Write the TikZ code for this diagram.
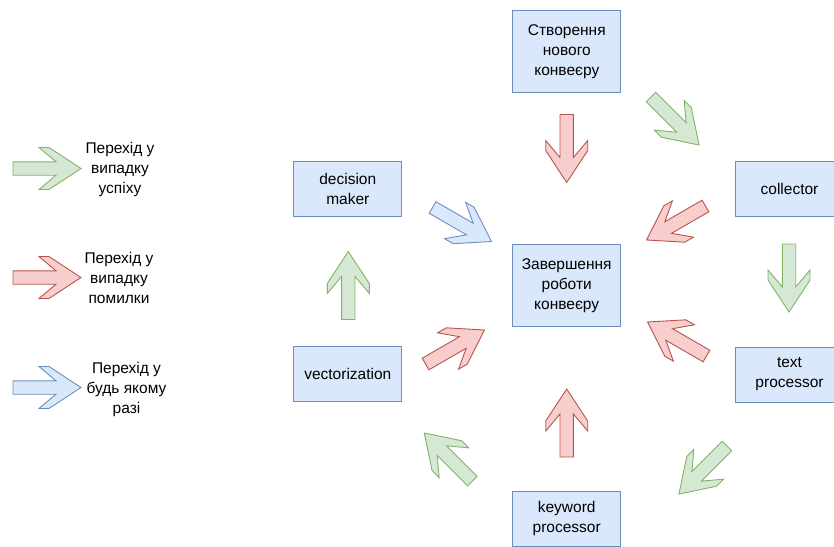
\documentclass[tikz,border=0pt]{standalone}
\usepackage{fontspec}
\setmainfont{Liberation Sans}
\definecolor{bxfill}{HTML}{DAE8FC}
\definecolor{bxdraw}{HTML}{6C8EBF}
\definecolor{rdfill}{HTML}{F8CECC}
\definecolor{rddraw}{HTML}{B85450}
\definecolor{gnfill}{HTML}{D5E8D4}
\definecolor{gndraw}{HTML}{82B366}
\tikzset{
  box/.style={draw=bxdraw, fill=bxfill, line width=0.9pt, minimum width=108pt, align=center, inner sep=2pt, font=\fontsize{15.5}{20}\selectfont},
  lbl/.style={align=center, inner sep=0pt, font=\fontsize{15.5}{20}\selectfont},
  succarrow/.style={draw=gndraw, fill=gnfill, line width=0.9pt, line join=miter},
  failarrow/.style={draw=rddraw, fill=rdfill, line width=0.9pt, line join=miter},
  bothwayarrow/.style={draw=bxdraw, fill=bxfill, line width=0.9pt, line join=miter},
}
\newcommand{\fatarrow}[3]{%
  \filldraw[#1, shift={(#2)}, rotate=#3] (-34,6.7) -- (9,6.7) -- (-8,21) -- (2,21) -- (34,0) -- (2,-21) -- (-8,-21) -- (9,-6.7) -- (-34,-6.7) -- cycle;}
\begin{document}
\begin{tikzpicture}[x=1pt, y=-1pt]
\useasboundingbox (0,0) rectangle (834,546);
% boxes
\node[box, minimum height=82.7pt] (create) at (566.8,51.3) {Створення\\нового\\конвеєру};
\node[box, minimum height=82.7pt] (finish) at (566.7,285.3) {Завершення\\роботи\\конвеєру};
\node[box, minimum height=55.7pt] (collector) at (789.5,189) {collector};
\node[box, minimum height=55pt] (textproc) at (789.5,374.5) {text\\processor};
\node[box, minimum height=55.7pt] (keyword) at (566.7,518.8) {keyword\\processor};
\node[box, minimum height=55pt] (decision) at (347.8,189.2) {decision\\maker};
\node[box, minimum height=55pt] (vector) at (347.8,374.2) {vectorization};
% arrows in diagram
\fatarrow{failarrow}{566.7,148.5}{-90}
\fatarrow{succarrow}{675,121}{-45}
\fatarrow{failarrow}{676,223}{210}
\fatarrow{succarrow}{789,278}{-90}
\fatarrow{failarrow}{677,339}{150}
\fatarrow{succarrow}{703,470}{225}
\fatarrow{failarrow}{566.7,423}{90}
\fatarrow{succarrow}{448.3,457}{135}
\fatarrow{failarrow}{455,347}{30}
\fatarrow{succarrow}{348.3,285.5}{90}
\fatarrow{bothwayarrow}{462,224.5}{-30}
% legend
\fatarrow{succarrow}{47,168.5}{0}
\fatarrow{failarrow}{47,277.5}{0}
\fatarrow{bothwayarrow}{47,387.5}{0}
\node[lbl] (lgok) at (120,169) {Перехід у\\випадку\\успіху};
\node[lbl] (lgerr) at (119,278) {Перехід у\\випадку\\помилки};
\node[lbl] (lgany) at (126.5,389) {Перехід у\\будь якому\\разі};
\end{tikzpicture}
\end{document}
